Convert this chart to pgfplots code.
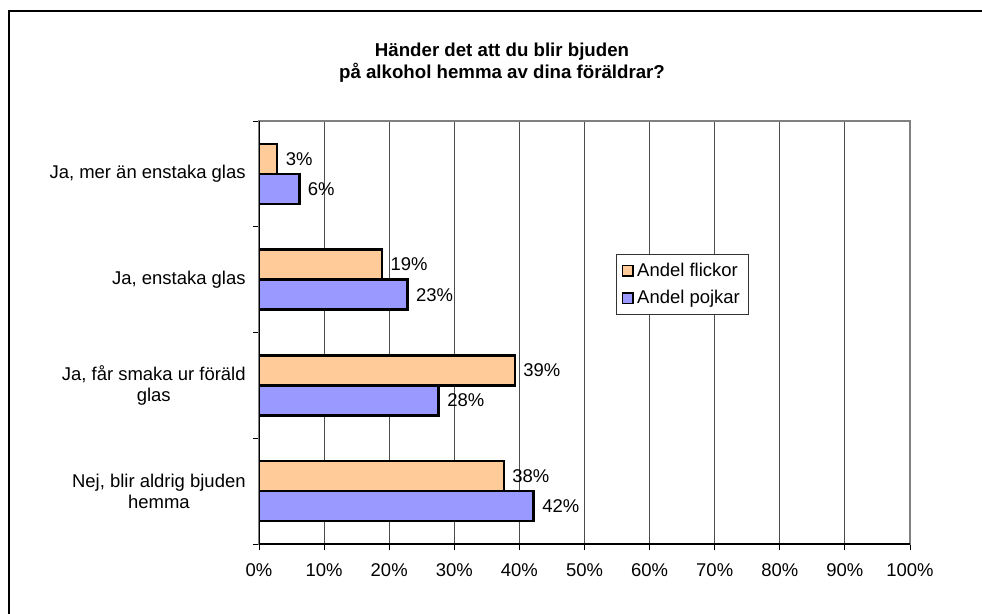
\documentclass[border=0pt]{standalone}
\usepackage{pgfplots}
\pgfplotsset{compat=1.18}
\usepackage{fontspec}
\setmainfont{Liberation Sans}
\definecolor{barorange}{HTML}{FFCC99}
\definecolor{barblue}{HTML}{9999FF}
\pgfplotsset{/pgf/number format/assume math mode=true}
\begin{document}
\begin{tikzpicture}[font=\fontsize{13.85}{16}\selectfont]
\useasboundingbox (0pt,0pt) rectangle (736.5pt,-460.5pt);
\fill[white] (0pt,0pt) rectangle (736.5pt,-460.5pt);
\draw[line width=1.6pt] (6.75pt,-480pt) -- (6.75pt,-8.25pt) -- (750pt,-8.25pt);
\node[font=\fontsize{14}{15.8}\selectfont\bfseries, align=center] at (376.5pt,-47pt) {Händer det att du blir bjuden\\på alkohol hemma av dina föräldrar?};
\begin{axis}[
  at={(194.25pt,-408pt)}, anchor=south west, scale only axis,
  width=488.25pt, height=317.25pt,
  xbar, bar width=0.284,
  xmin=0, xmax=100, ymin=-0.5, ymax=3.5,
  xtick={0,10,...,100},
  xticklabel={\pgfmathprintnumber{\tick}\%},
  xticklabel style={yshift=-6.5pt},
  xtick pos=bottom, ytick pos=left,
  xmajorgrids, major grid style={black!70, line width=0.75pt},
  ytick={-0.5,0.5,1.5,2.5,3.5}, yticklabels={},
  extra y ticks={0,1,2,3},
  extra y tick labels={{Nej, blir aldrig bjuden\\hemma},{Ja, får smaka ur föräld\\glas},{Ja, enstaka glas},{Ja, mer än enstaka glas}},
  extra y tick style={major tick length=0pt, yticklabel style={align=center, xshift=-6.5pt}},
  tick align=outside, major tick length=4.5pt,
  tick style={black, line width=0.75pt},
  axis line style={draw=black!50, line width=1.5pt},
  point meta=x,
  nodes near coords={\pgfmathprintnumber[fixed,precision=0]{\pgfplotspointmeta}\%},
  nodes near coords style={anchor=west, inner sep=0pt, xshift=5.5pt, black},
  legend style={at={(0.548,0.686)}, anchor=north west, draw=black!80, line width=0.75pt,
    font=\fontsize{13.85}{16}\selectfont, row sep=5pt, inner xsep=4pt, inner ysep=4.5pt,
    nodes={inner xsep=2.5pt}},
  legend cell align=left,
  legend image code/.code={\draw[#1, line width=1.2pt] (0pt,-4pt) rectangle (8pt,4pt);},
]
\addplot[fill=barorange, draw=black, line width=1.9pt, bar shift=0.142] coordinates {(2.8,3) (18.9,2) (39.3,1) (37.6,0)};
\addplot[fill=barblue, draw=black, line width=1.9pt, bar shift=-0.142] coordinates {(6.2,3) (22.8,2) (27.6,1) (42.2,0)};
\legend{Andel flickor, Andel pojkar}
\draw[black, line width=1.5pt] (rel axis cs:0,0) -- (rel axis cs:0,1);
\draw[black, line width=1.5pt] (rel axis cs:0,0) -- (rel axis cs:1,0);
\end{axis}
\end{tikzpicture}
\end{document}
